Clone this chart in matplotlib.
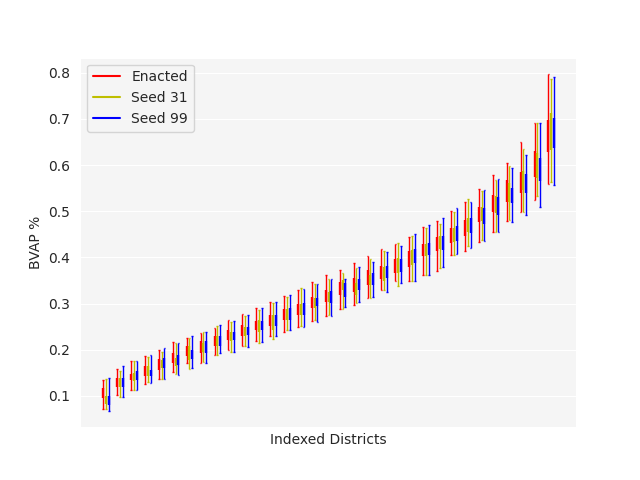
import numpy as np
import matplotlib
matplotlib.use("Agg")
import matplotlib.pyplot as plt
import seaborn as sns
from matplotlib.lines import Line2D

# BVAP share per district: whisker low, box low, box high, whisker high
enacted_lo = [0.071, 0.102, 0.113, 0.125, 0.136, 0.151, 0.171, 0.172, 0.189, 0.200, 0.207,
              0.218, 0.229, 0.239, 0.250, 0.263, 0.273, 0.288, 0.297, 0.313, 0.330, 0.349,
              0.349, 0.362, 0.371, 0.406, 0.414, 0.434, 0.456, 0.479, 0.499, 0.525, 0.559]
enacted_q1 = [0.096, 0.120, 0.135, 0.143, 0.156, 0.171, 0.187, 0.193, 0.207, 0.221, 0.229,
              0.242, 0.252, 0.265, 0.276, 0.290, 0.304, 0.319, 0.325, 0.341, 0.354, 0.366,
              0.380, 0.402, 0.413, 0.431, 0.447, 0.477, 0.499, 0.521, 0.539, 0.575, 0.628]
enacted_q3 = [0.117, 0.139, 0.148, 0.165, 0.180, 0.193, 0.207, 0.218, 0.229, 0.243, 0.254,
              0.263, 0.276, 0.288, 0.299, 0.315, 0.330, 0.347, 0.356, 0.373, 0.382, 0.397,
              0.413, 0.429, 0.445, 0.463, 0.481, 0.510, 0.536, 0.568, 0.586, 0.631, 0.698]
enacted_hi = [0.135, 0.158, 0.176, 0.187, 0.200, 0.216, 0.225, 0.236, 0.248, 0.265, 0.278,
              0.290, 0.304, 0.317, 0.330, 0.346, 0.362, 0.372, 0.388, 0.403, 0.419, 0.429,
              0.445, 0.466, 0.479, 0.501, 0.521, 0.549, 0.579, 0.604, 0.650, 0.691, 0.797]

seed31_lo = [0.072, 0.098, 0.112, 0.131, 0.136, 0.148, 0.158, 0.174, 0.189, 0.194, 0.207,
             0.214, 0.224, 0.242, 0.252, 0.265, 0.276, 0.288, 0.302, 0.312, 0.330, 0.337,
             0.348, 0.362, 0.377, 0.406, 0.424, 0.438, 0.454, 0.481, 0.499, 0.532, 0.564]
seed31_q1 = [0.083, 0.120, 0.133, 0.142, 0.160, 0.164, 0.178, 0.195, 0.207, 0.218, 0.229,
             0.239, 0.243, 0.265, 0.276, 0.290, 0.304, 0.330, 0.319, 0.341, 0.348, 0.366,
             0.384, 0.402, 0.419, 0.434, 0.455, 0.478, 0.496, 0.521, 0.546, 0.572, 0.633]
seed31_q3 = [0.100, 0.139, 0.150, 0.164, 0.178, 0.182, 0.207, 0.215, 0.229, 0.239, 0.250,
             0.265, 0.276, 0.288, 0.299, 0.312, 0.326, 0.351, 0.344, 0.362, 0.380, 0.398,
             0.416, 0.429, 0.447, 0.464, 0.486, 0.510, 0.534, 0.561, 0.588, 0.626, 0.713]
seed31_hi = [0.137, 0.154, 0.176, 0.184, 0.196, 0.214, 0.226, 0.238, 0.252, 0.261, 0.272,
             0.285, 0.302, 0.315, 0.333, 0.343, 0.353, 0.367, 0.377, 0.397, 0.414, 0.431,
             0.447, 0.463, 0.472, 0.499, 0.527, 0.544, 0.568, 0.599, 0.635, 0.691, 0.787]

seed99_lo = [0.068, 0.098, 0.113, 0.127, 0.136, 0.146, 0.160, 0.171, 0.193, 0.196, 0.206,
             0.216, 0.229, 0.243, 0.250, 0.261, 0.273, 0.292, 0.304, 0.315, 0.326, 0.344,
             0.349, 0.361, 0.380, 0.407, 0.421, 0.436, 0.456, 0.476, 0.491, 0.510, 0.556]
seed99_q1 = [0.080, 0.120, 0.135, 0.142, 0.161, 0.167, 0.180, 0.193, 0.208, 0.220, 0.232,
             0.242, 0.252, 0.265, 0.276, 0.294, 0.302, 0.315, 0.330, 0.341, 0.355, 0.369,
             0.388, 0.406, 0.416, 0.436, 0.453, 0.472, 0.492, 0.518, 0.539, 0.566, 0.637]
seed99_q3 = [0.100, 0.139, 0.153, 0.156, 0.182, 0.189, 0.200, 0.218, 0.229, 0.239, 0.250,
             0.263, 0.276, 0.290, 0.301, 0.312, 0.328, 0.344, 0.354, 0.366, 0.382, 0.397,
             0.419, 0.432, 0.447, 0.469, 0.486, 0.507, 0.530, 0.550, 0.580, 0.615, 0.702]
seed99_hi = [0.139, 0.165, 0.176, 0.189, 0.203, 0.214, 0.230, 0.238, 0.254, 0.263, 0.276,
             0.290, 0.304, 0.319, 0.331, 0.343, 0.353, 0.353, 0.380, 0.390, 0.411, 0.424,
             0.450, 0.471, 0.486, 0.507, 0.521, 0.546, 0.570, 0.593, 0.622, 0.691, 0.790]

series = [
    ("Enacted", "r", enacted_lo, enacted_q1, enacted_q3, enacted_hi, -0.2),
    ("Seed 31", "y", seed31_lo, seed31_q1, seed31_q3, seed31_hi, 0.0),
    ("Seed 99", "b", seed99_lo, seed99_q1, seed99_q3, seed99_hi, 0.2),
]

sns.set_style("darkgrid", {"axes.facecolor": "#f5f5f5"})

fig, ax = plt.subplots(figsize=(6.4, 4.8), dpi=100)

districts = np.arange(1, len(enacted_lo) + 1)
for name, color, lo, q1, q3, hi, offset in series:
    x = districts + offset
    # whiskers, boxes and small caps
    ax.vlines(x, lo, hi, color=color, linewidth=1.0)
    ax.vlines(x, q1, q3, color=color, linewidth=1.7)
    ax.hlines(lo, x - 0.06, x + 0.06, color=color, linewidth=1.0)
    ax.hlines(hi, x - 0.06, x + 0.06, color=color, linewidth=1.0)

ax.set_xticks([])
ax.set_xlim(-0.87, 34.78)
ax.set_ylim(0.032, 0.833)
ax.set_xlabel("Indexed Districts")
ax.set_ylabel("BVAP %")

handles = [Line2D([0], [0], color=c, lw=1.5, label=n) for n, c, *_ in series]
ax.legend(handles=handles, loc="upper left")

plt.savefig("out.png")
